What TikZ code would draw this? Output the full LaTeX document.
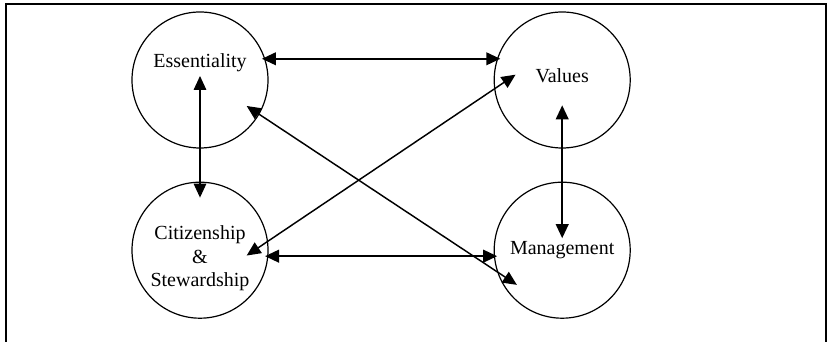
\documentclass[tikz,border=0pt]{standalone}
\usepackage{fontspec}
\setmainfont{Liberation Serif}
\usepackage{tikz}
\usetikzlibrary{calc,arrows.meta,positioning}

\begin{document}
\begin{tikzpicture}[>={Triangle[length=10.5pt,width=9.5pt]}, black, text=black,
	   every node/.style={font=\fontsize{15}{17.5}\selectfont},
	   themecircle/.style={circle, draw, line width=0.9pt, minimum size=102pt, inner sep=0pt},
	   link/.style={<->, line width=#1},
	   link/.default=1.4pt]
	%% Frame
	\useasboundingbox (0,0) rectangle (626.25pt,256.5pt);
	\draw[line width=1.5pt] (4.5pt,0) |- (619.5pt,253.3pt) -- (619.5pt,0);

	%% Themes
	\node [themecircle, label={[yshift=13pt]center:Essentiality}] (ess) at (150pt,196.5pt) {};
	\node [themecircle, right=168.75pt of ess, label={[yshift=3pt]center:Values}] (val) {};
	\node [themecircle, below=24.75pt of ess,
	       label={[align=center,yshift=-6pt]center:{Citizenship\\\&\\Stewardship}}] (cit) {};
	\node [themecircle, below=24.75pt of val, label={center:Management}] (mgmt) {};

	%% Straight links
	\draw[link, shorten <=-2.5pt, shorten >=-2.5pt] (ess.18) -- (val.162);
	\draw[link, shorten <=-2.5pt, shorten >=-2.5pt] (cit.-5) -- (mgmt.185);
	\draw[link=0.8pt] ($(ess.center)+(0,3pt)$) -- ($(cit.north)+(0,-12pt)$);
	\draw[link=1.3pt] ($(val.center)+(0,-19pt)$) -- ($(mgmt.center)+(0,9pt)$);
	%% Crossing links
	\draw[link=1.1pt] ($(ess.center)+(35pt,-19.5pt)$) -- ($(mgmt.center)+(-34pt,-26pt)$);
	\draw[link=1.1pt] ($(cit.center)+(35pt,-4pt)$) -- ($(val.center)+(-35pt,4pt)$);
\end{tikzpicture}
\end{document}
